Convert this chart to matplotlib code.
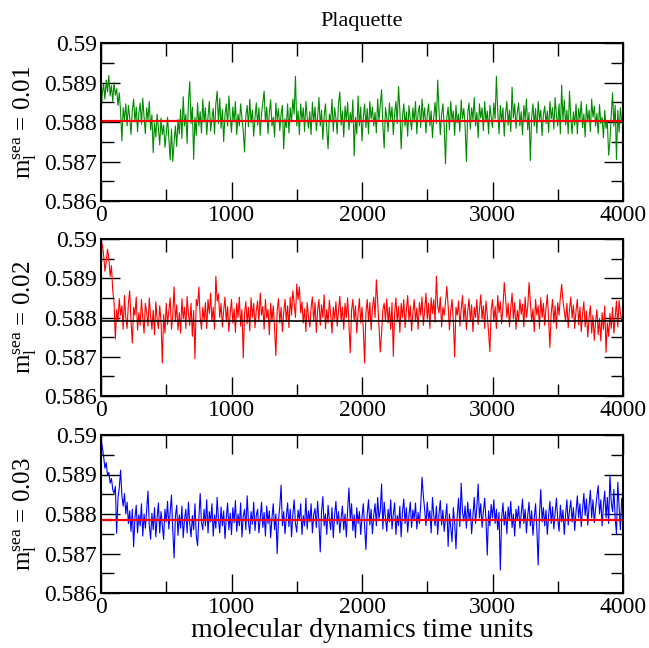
import numpy as np
import matplotlib.pyplot as plt
from matplotlib.ticker import MultipleLocator, FixedLocator, FixedFormatter

# plaquette history, one value per 10 MD time units,
# given in units of 1e-5 above 0.58
plaq_m001 = [
    818, 872, 896, 858, 906, 876, 918, 866, 892, 852, 900, 868, 884, 842, 874, 828, 752, 836, 806, 846,
    790, 842, 812, 768, 830, 858, 800, 838, 776, 822, 848, 794, 860, 812, 770, 836, 806, 852, 780, 818,
    722, 798, 762, 820, 784, 742, 810, 768, 792, 736, 770, 812, 758, 704, 782, 700, 748, 790, 738, 806,
    770, 832, 758, 864, 790, 820, 746, 850, 902, 796, 838, 706, 812, 766, 848, 790, 826, 772, 858, 800,
    836, 768, 812, 852, 778, 808, 834, 770, 846, 878, 796, 860, 784, 832, 750, 818, 846, 790, 866, 812,
    774, 838, 800, 852, 768, 820, 790, 846, 810, 776, 724, 816, 842, 788, 858, 798, 830, 764, 812, 848,
    792, 836, 766, 820, 850, 878, 800, 838, 770, 824, 856, 790, 812, 762, 848, 806, 834, 778, 820, 842,
    732, 808, 786, 846, 772, 836, 800, 858, 820, 916, 790, 828, 768, 846, 804, 836, 776, 852, 812, 784,
    826, 768, 850, 800, 838, 778, 812, 862, 790, 830, 756, 816, 846, 780, 732, 820, 800, 858, 776, 836,
    810, 770, 848, 876, 792, 828, 762, 840, 804, 850, 780, 824, 798, 856, 714, 812, 770, 866, 790, 838,
    752, 812, 846, 786, 834, 770, 852, 808, 838, 790, 824, 772, 858, 804, 842, 882, 790, 734, 836, 812,
    776, 848, 806, 838, 768, 820, 852, 796, 890, 830, 732, 812, 846, 790, 826, 764, 842, 808, 780, 836,
    800, 852, 770, 824, 842, 786, 858, 806, 836, 772, 818, 846, 790, 828, 760, 812, 850, 796, 906, 830,
    768, 820, 846, 788, 694, 812, 838, 780, 852, 804, 828, 766, 842, 798, 820, 776, 856, 808, 834, 790,
    700, 822, 848, 782, 836, 806, 862, 790, 824, 760, 846, 810, 836, 778, 852, 800, 828, 770, 842, 812,
    786, 848, 808, 916, 826, 770, 842, 800, 836, 764, 820, 852, 792, 830, 776, 888, 810, 846, 784, 824,
    848, 790, 826, 768, 842, 806, 858, 780, 824, 702, 812, 846, 790, 834, 772, 852, 806, 830, 766, 818,
    840, 796, 828, 774, 852, 808, 836, 782, 862, 816, 790, 846, 770, 894, 804, 856, 792, 830, 770, 878,
    812, 770, 826, 792, 846, 770, 834, 806, 852, 786, 820, 762, 844, 800, 830, 776, 858, 812, 840, 790,
    822, 770, 844, 796, 812, 760, 830, 784, 800, 716, 752, 818, 874, 790, 842, 705, 830, 774, 836, 800, 812,
]

plaq_m002 = [
    996, 985, 960, 918, 942, 974, 950, 905, 932, 868, 839, 745, 820, 790, 848, 806, 830, 770, 856, 800,
    772, 838, 868, 790, 735, 826, 806, 852, 768, 812, 780, 846, 798, 760, 836, 812, 778, 850, 804, 770,
    818, 756, 840, 796, 772, 830, 790, 684, 808, 760, 836, 782, 818, 850, 770, 804, 878, 790, 832, 768,
    812, 760, 848, 796, 826, 772, 854, 808, 780, 836, 752, 818, 695, 846, 830, 878, 800, 770, 826, 790,
    838, 772, 846, 810, 862, 790, 826, 770, 905, 842, 860, 800, 836, 776, 818, 852, 790, 828, 764, 810,
    846, 786, 822, 762, 836, 800, 852, 778, 820, 697, 812, 840, 784, 826, 766, 850, 800, 836, 774, 818,
    842, 790, 862, 806, 828, 770, 846, 798, 820, 756, 836, 790, 830, 772, 703, 818, 848, 786, 826, 764,
    812, 846, 790, 830, 774, 852, 806, 868, 836, 800, 885, 846, 878, 812, 840, 786, 822, 764, 838, 800,
    776, 826, 852, 790, 838, 762, 818, 846, 780, 832, 800, 858, 772, 820, 786, 844, 808, 760, 826, 796,
    840, 778, 816, 854, 790, 826, 770, 836, 800, 850, 782, 710, 818, 846, 792, 830, 760, 812, 848, 786,
    826, 770, 684, 812, 846, 790, 838, 768, 824, 852, 800, 896, 842, 776, 712, 760, 820, 836, 792, 848,
    786, 826, 770, 838, 701, 812, 850, 790, 828, 762, 836, 800, 846, 774, 818, 856, 792, 830, 766, 812,
    846, 790, 824, 770, 838, 806, 852, 780, 818, 862, 796, 836, 772, 850, 810, 846, 788, 905, 830, 812,
    852, 776, 826, 806, 840, 879, 830, 768, 818, 846, 790, 699, 826, 806, 842, 778, 820, 856, 792, 834,
    770, 816, 848, 790, 832, 764, 826, 800, 846, 782, 818, 858, 796, 830, 772, 842, 806, 762, 713, 820,
    846, 790, 828, 772, 856, 812, 840, 784, 826, 889, 850, 800, 836, 776, 824, 862, 796, 838, 770, 818,
    792, 846, 808, 834, 776, 852, 800, 826, 889, 840, 790, 822, 764, 846, 806, 830, 772, 850, 800, 836,
    780, 824, 858, 796, 724, 812, 846, 786, 830, 772, 838, 806, 852, 885, 842, 816, 790, 836, 774, 820,
    852, 798, 832, 772, 818, 846, 782, 826, 764, 810, 840, 776, 816, 750, 800, 830, 760, 806, 742, 790,
    820, 756, 798, 740, 812, 770, 830, 711, 786, 752, 810, 772, 826, 760, 800, 842, 776, 843, 812, 790, 808,
]

plaq_m003 = [
    987, 970, 946, 916, 930, 898, 905, 878, 890, 862, 852, 870, 751, 840, 866, 911, 846, 820, 852, 800,
    830, 776, 808, 756, 812, 717, 790, 822, 752, 798, 770, 826, 744, 800, 764, 810, 858, 772, 736, 802,
    760, 816, 742, 790, 828, 752, 806, 770, 736, 812, 780, 832, 762, 806, 848, 758, 689, 794, 822, 746,
    798, 764, 820, 740, 786, 812, 752, 830, 776, 742, 796, 760, 826, 746, 720, 790, 852, 778, 760, 812,
    770, 836, 752, 806, 780, 826, 744, 798, 764, 842, 786, 752, 818, 770, 808, 738, 790, 828, 760, 802,
    748, 816, 778, 834, 756, 800, 770, 828, 742, 794, 812, 760, 846, 780, 750, 806, 774, 830, 758, 796,
    812, 752, 788, 830, 766, 804, 744, 820, 776, 808, 740, 790, 826, 760, 800, 700, 786, 818, 873, 770,
    806, 750, 792, 828, 768, 812, 742, 800, 836, 776, 754, 810, 784, 826, 748, 796, 770, 840, 762, 808,
    780, 826, 752, 798, 814, 766, 832, 778, 704, 806, 844, 770, 800, 748, 822, 786, 760, 816, 740, 796,
    832, 774, 806, 752, 790, 820, 760, 800, 742, 812, 866, 784, 826, 758, 798, 740, 816, 776, 806, 748,
    792, 826, 766, 710, 800, 836, 772, 812, 750, 796, 826, 770, 842, 788, 808, 876, 762, 830, 790, 756,
    812, 780, 836, 762, 800, 828, 748, 796, 770, 820, 742, 806, 838, 776, 816, 754, 798, 830, 766, 810,
    786, 828, 762, 804, 776, 822, 893, 846, 812, 770, 830, 786, 808, 752, 842, 796, 770, 820, 748, 800,
    834, 772, 810, 756, 792, 826, 718, 800, 764, 730, 816, 778, 712, 796, 840, 768, 878, 806, 782, 820,
    764, 830, 786, 812, 750, 798, 842, 776, 818, 876, 790, 826, 766, 806, 840, 785, 696, 808, 770, 824,
    790, 836, 776, 812, 760, 804, 658, 790, 828, 772, 806, 750, 818, 784, 832, 766, 800, 744, 812, 786,
    820, 764, 800, 838, 776, 812, 752, 796, 830, 770, 808, 746, 790, 826, 760, 671, 800, 862, 780, 816,
    770, 810, 748, 796, 832, 776, 818, 762, 804, 840, 786, 756, 822, 780, 810, 748, 798, 836, 772, 808,
    834, 780, 816, 758, 806, 846, 790, 826, 768, 812, 852, 796, 838, 772, 820, 860, 790, 836, 778, 814,
    846, 872, 800, 836, 770, 822, 858, 790, 842, 776, 899, 830, 806, 862, 788, 750, 880, 818, 760, 840, 800,
]

mean_values = [0.588025, 0.58790, 0.58784]
mass_labels = ['0.01', '0.02', '0.03']
line_colors = ['#008b00', '#ff0000', '#0000ff']
mean_colors = ['#ff0000', '#000000', '#ff0000']
ytick_vals = [0.586, 0.587, 0.588, 0.589, 0.590]
ytick_labels = ['0.586', '0.587', '0.588', '0.589', '0.59']
xtick_vals = [0, 1000, 2000, 3000, 4000]

plt.rcParams['font.family'] = ['Liberation Serif', 'DejaVu Serif']
plt.rcParams['mathtext.fontset'] = 'custom'
plt.rcParams['mathtext.rm'] = 'Liberation Serif'
plt.rcParams['mathtext.it'] = 'Liberation Serif:italic'

fig = plt.figure(figsize=(6.49, 6.48), dpi=100)
W, H = 649, 648
left, right = 101, 623
tops = [43, 239, 435]
bottoms = [201, 396, 593]

series = [plaq_m001, plaq_m002, plaq_m003]
for i, vals in enumerate(series):
    ax = fig.add_axes([left / W, 1 - bottoms[i] / H, (right - left) / W, (bottoms[i] - tops[i]) / H])
    v = np.array(vals, dtype=float)
    t = np.arange(len(v)) * 10.0
    ax.plot(t, 0.58 + v * 1e-5, color=line_colors[i], lw=0.8)
    ax.axhline(mean_values[i], color=mean_colors[i], lw=1.6 if i != 1 else 1.2)

    ax.set_xlim(0, 4000)
    ax.set_ylim(0.586, 0.590)
    ax.xaxis.set_major_locator(FixedLocator(xtick_vals))
    ax.xaxis.set_minor_locator(MultipleLocator(500))
    ax.yaxis.set_major_locator(FixedLocator(ytick_vals))
    ax.yaxis.set_major_formatter(FixedFormatter(ytick_labels))
    ax.yaxis.set_minor_locator(MultipleLocator(0.0005))
    ax.tick_params(which='both', direction='in', top=True, right=True, width=1.0, labelsize=17)
    ax.tick_params(which='major', length=13.5, pad=3)
    ax.tick_params(which='minor', length=9)
    for s in ax.spines.values():
        s.set_linewidth(1.5)

    ax.set_ylabel(r'$\mathrm{m_l^{sea}}$ = ' + mass_labels[i], fontsize=18, labelpad=4)
    if i == 0:
        ax.set_title('Plaquette', fontsize=16, pad=12)
    if i == 2:
        ax.set_xlabel('molecular dynamics time units', fontsize=20, labelpad=0)

fig.savefig('out.png', dpi=100)
